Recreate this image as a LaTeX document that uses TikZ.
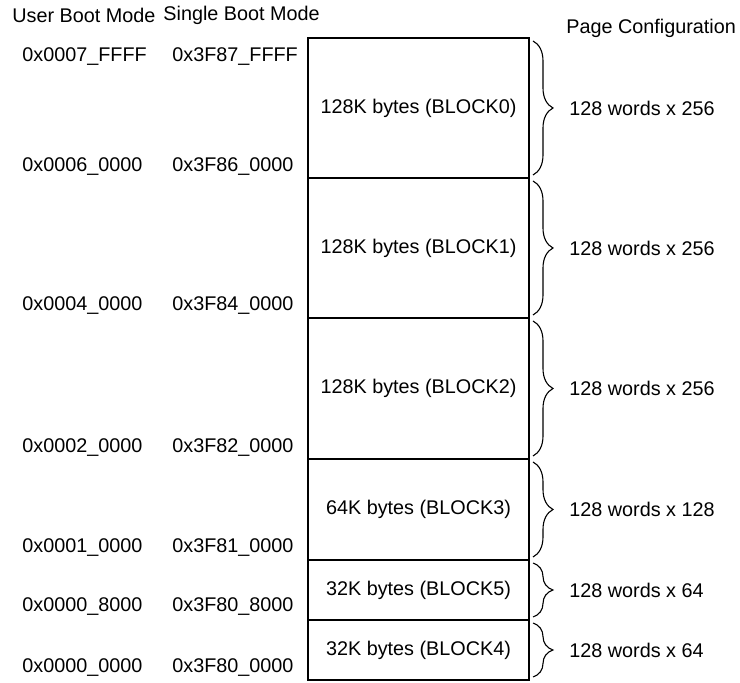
\documentclass[tikz,border=0pt]{standalone}
\usepackage{fontspec}
\setmainfont{Liberation Sans}
\usetikzlibrary{positioning,decorations.pathreplacing}

\begin{document}
\begin{tikzpicture}[x=0.5pt,y=-0.5pt,
  every node/.style={font=\fontsize{9.9}{12}\selectfont,inner sep=0pt},
  blk/.style={draw,line width=0.8pt,outer sep=0pt,minimum width=110.5pt},
  addr/.style={anchor=west},
  brc/.style={decorate,decoration={brace,amplitude=10pt},line width=0.55pt}]
  \useasboundingbox (0,0) rectangle (740,683);
  % column headers
  \node[anchor=west] (hu) at (12,15) {User Boot Mode};
  \node[anchor=west] (hs) at (163,15) {Single Boot Mode};
  \node[anchor=west] (hp) at (566,28) {Page Configuration};
  % flash blocks, top to bottom
  \node[blk,minimum height=70pt,anchor=north west] (b0) at (308,38) {128K bytes (BLOCK0)};
  \node[blk,minimum height=70pt,below=0pt of b0] (b1) {128K bytes (BLOCK1)};
  \node[blk,minimum height=70.5pt,below=0pt of b1] (b2) {128K bytes (BLOCK2)};
  \node[blk,minimum height=50.5pt,below=0pt of b2] (b3) {64K bytes (BLOCK3)};
  \node[blk,minimum height=30pt,below=0pt of b3] (b5) {32K bytes (BLOCK5)};
  \node[blk,minimum height=30pt,below=0pt of b5] (b4) {32K bytes (BLOCK4)};
  % addresses
  \foreach \y/\u/\s [count=\i] in {57/0x0007\_FFFF/0x3F87\_FFFF,167/0x0006\_0000/0x3F86\_0000,
      306/0x0004\_0000/0x3F84\_0000,448/0x0002\_0000/0x3F82\_0000,548/0x0001\_0000/0x3F81\_0000,
      607/0x0000\_8000/0x3F80\_8000,668/0x0000\_0000/0x3F80\_0000}{
    \node[addr] (u\i) at (22,\y) {\u};
    \node[addr] (s\i) at (172,\y) {\s};
  }
  % page configuration braces
  \foreach \b/\t in {b0/256,b1/256,b2/256,b3/128,b5/64,b4/64}{
    \draw[brc] ([xshift=2pt,yshift=-1.5pt]\b.north east) -- ([xshift=2pt,yshift=1.5pt]\b.south east);
    \node[anchor=west,right=20pt of \b.east] (p\b) {128 words x \t};
  }
\end{tikzpicture}
\end{document}
